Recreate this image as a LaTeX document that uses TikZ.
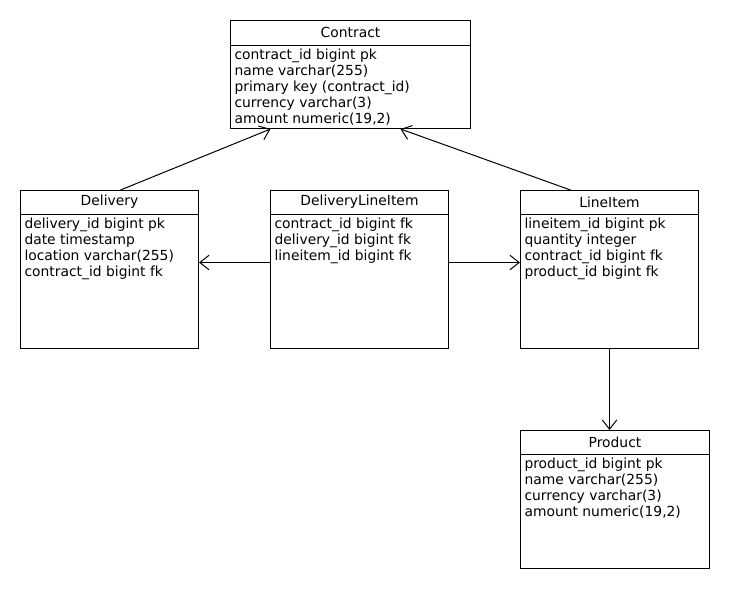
\documentclass[tikz,border=0pt]{standalone}
\usepackage{fontspec}
\setmainfont{DejaVu Sans}
\usetikzlibrary{arrows.meta}

\begin{document}
\begin{tikzpicture}[x=0.75pt,y=-0.75pt,line width=0.75pt,>={Straight Barb[length=7pt,width=11pt]}]
    \tikzstyle{every node}=[font=\fontsize{10.4}{12}\selectfont]
    \tikzstyle{table}=[draw,anchor=north west,inner sep=0pt]
    \tikzstyle{head}=[anchor=north,minimum height=18pt,inner sep=0pt]
    \tikzstyle{fields}=[anchor=north west,align=left,inner xsep=3pt,inner ysep=2.5pt]

    \useasboundingbox (0,0) rectangle (730,590);

    % Contract table
    \node[table,minimum width=180pt,minimum height=81pt] (Contract) at (230,20) {};
    \node[head,minimum width=180pt] (Contract-t) at (Contract.north) {Contract};
    \draw (Contract-t.south west) -- (Contract-t.south east);
    \node[fields] at (Contract-t.south west) {contract\_id bigint pk\\name varchar(255)\\primary key (contract\_id)\\currency varchar(3)\\amount numeric(19,2)};

    % Delivery table
    \node[table,minimum width=133.5pt,minimum height=118.5pt] (Delivery) at (20,190) {};
    \node[head,minimum width=133.5pt,minimum height=17.25pt] (Delivery-t) at (Delivery.north) {Delivery};
    \draw (Delivery-t.south west) -- (Delivery-t.south east);
    \node[fields] at (Delivery-t.south west) {delivery\_id bigint pk\\date timestamp\\location varchar(255)\\contract\_id bigint fk};

    % DeliveryLineItem table
    \node[table,minimum width=133.5pt,minimum height=118.5pt] (DeliveryLineItem) at (270,190) {};
    \node[head,minimum width=133.5pt,minimum height=17.25pt] (DeliveryLineItem-t) at (DeliveryLineItem.north) {DeliveryLineItem};
    \draw (DeliveryLineItem-t.south west) -- (DeliveryLineItem-t.south east);
    \node[fields] at (DeliveryLineItem-t.south west) {contract\_id bigint fk\\delivery\_id bigint fk\\lineitem\_id bigint fk};

    % LineItem table
    \node[table,minimum width=133.5pt,minimum height=118.5pt] (LineItem) at (520,190) {};
    \node[head,minimum width=133.5pt,minimum height=17.25pt] (LineItem-t) at (LineItem.north) {LineItem};
    \draw (LineItem-t.south west) -- (LineItem-t.south east);
    \node[fields] at (LineItem-t.south west) {lineitem\_id bigint pk\\quantity integer\\contract\_id bigint fk\\product\_id bigint fk};

    % Product table
    \node[table,minimum width=141.75pt,minimum height=103.5pt] (Product) at (520,430) {};
    \node[head,minimum width=141.75pt,minimum height=17.25pt] (Product-t) at (Product.north) {Product};
    \draw (Product-t.south west) -- (Product-t.south east);
    \node[fields] at (Product-t.south west) {product\_id bigint pk\\name varchar(255)\\currency varchar(3)\\amount numeric(19,2)};

    % References
    \draw[->] ([xshift=8.25pt]Delivery.north) -- ([xshift=-60pt]Contract.south);
    \draw[->] ([xshift=-29.25pt]LineItem.north) -- ([xshift=37.5pt]Contract.south);
    \draw[->] ([yshift=5.25pt]DeliveryLineItem.west) -- ([yshift=5.25pt]Delivery.east);
    \draw[->] ([yshift=5.25pt]DeliveryLineItem.east) -- ([yshift=5.25pt]LineItem.west);
    \draw[->] (LineItem.south) -- (LineItem.south |- Product.north);
\end{tikzpicture}
\end{document}
